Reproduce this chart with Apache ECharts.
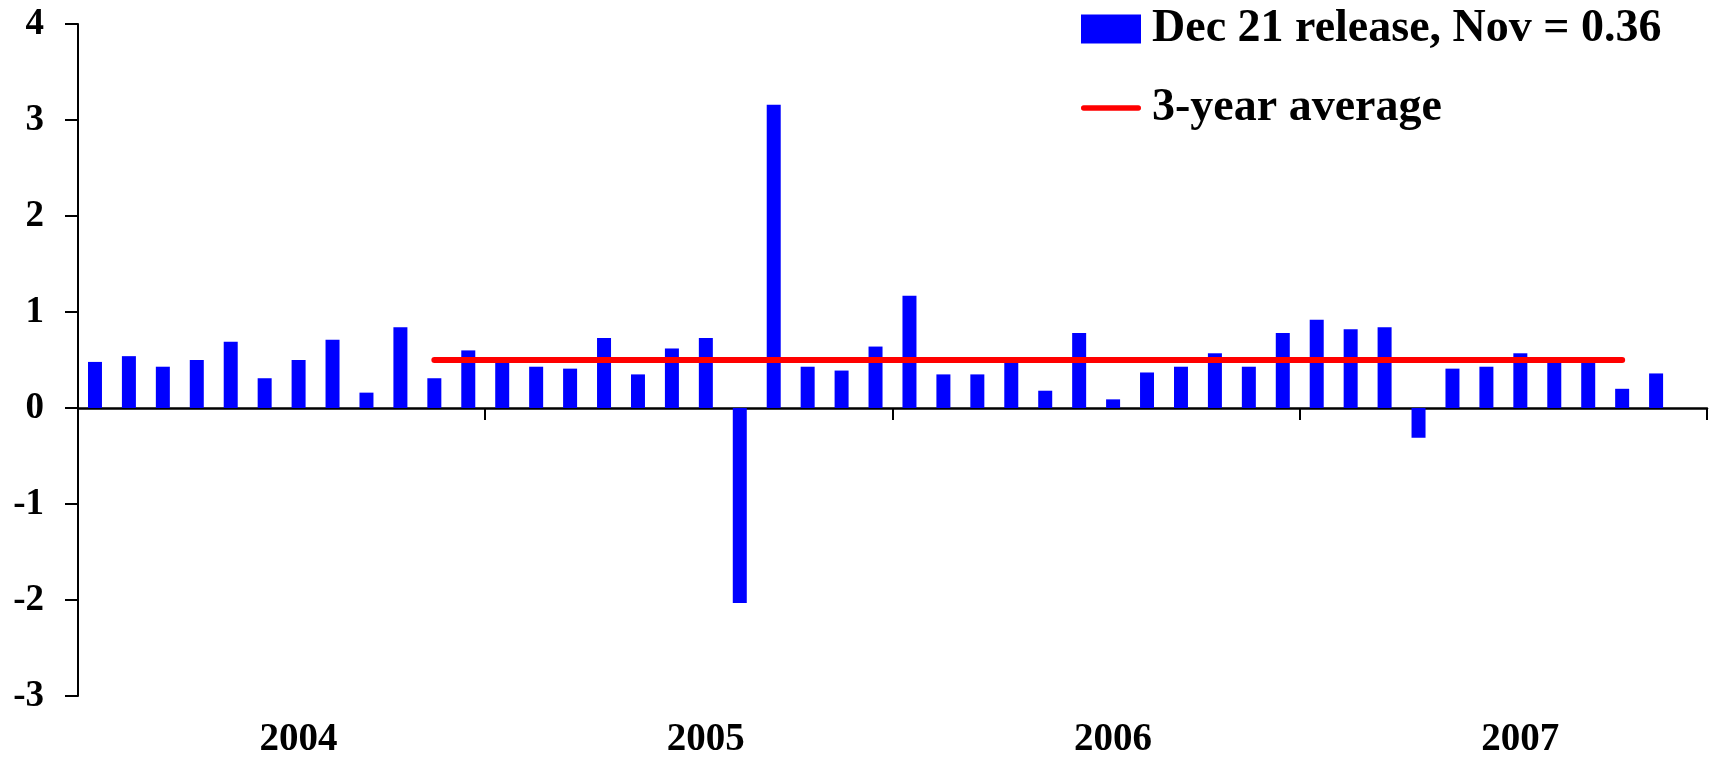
<!DOCTYPE html>
<html>
<head>
<meta charset="utf-8">
<script src="https://cdn.jsdelivr.net/npm/echarts@6/dist/echarts.min.js"></script>
<style>
  html, body { margin: 0; padding: 0; background: #ffffff; }
  #chart { width: 1714px; height: 759px; }
</style>
</head>
<body>
<div id="chart"></div>
<script>
// Monthly categories Jan 2004 .. Dec 2007
const months = [
  '2004-01','2004-02','2004-03','2004-04','2004-05','2004-06','2004-07','2004-08','2004-09','2004-10','2004-11','2004-12',
  '2005-01','2005-02','2005-03','2005-04','2005-05','2005-06','2005-07','2005-08','2005-09','2005-10','2005-11','2005-12',
  '2006-01','2006-02','2006-03','2006-04','2006-05','2006-06','2006-07','2006-08','2006-09','2006-10','2006-11','2006-12',
  '2007-01','2007-02','2007-03','2007-04','2007-05','2007-06','2007-07','2007-08','2007-09','2007-10','2007-11','2007-12'
];
// Dec 21 release values (Jan 2004 .. Nov 2007)
const releaseValues = [
  0.48, 0.54, 0.43, 0.50, 0.69, 0.31, 0.50, 0.71, 0.16, 0.84, 0.31, 0.60,
  0.50, 0.43, 0.41, 0.73, 0.35, 0.62, 0.73, -2.03, 3.16, 0.43, 0.39, 0.64,
  1.17, 0.35, 0.35, 0.50, 0.18, 0.78, 0.09, 0.37, 0.43, 0.57, 0.43, 0.78,
  0.92, 0.82, 0.84, -0.31, 0.41, 0.43, 0.57, 0.50, 0.50, 0.20, 0.36
];
// 3-year average line: endpoints
const avgPoints = [['2004-11', 0.5], ['2007-10', 0.5]];
const yTicks = { min: -3, max: 4, interval: 1 };
const seriesNames = ['Dec 21 release, Nov = 0.36', '3-year average'];

const FONT = '"Liberation Serif", "Times New Roman", serif';
const chart = echarts.init(document.getElementById('chart'), null, { renderer: 'canvas' });
chart.setOption({
  animation: false,
  backgroundColor: '#ffffff',
  grid: { left: 78, right: 7, top: 24, bottom: 61, containLabel: false },
  legend: {
    orient: 'vertical',
    left: 1081,
    top: 6,
    padding: 0,
    itemWidth: 60,
    itemHeight: 29,
    itemGap: 33,
    textStyle: { fontFamily: FONT, fontWeight: 'bold', fontSize: 46, lineHeight: 44, color: '#000', padding: [0, 0, 0, 6] },
    data: [
      { name: seriesNames[0], icon: 'rect' },
      { name: seriesNames[1], icon: 'path://M3,0 L63,0 A3,3 0 0 1 63,6 L3,6 A3,3 0 0 1 3,0 Z' }
    ]
  },
  xAxis: [
    {
      type: 'category',
      data: months,
      boundaryGap: true,
      axisLine: { show: true, onZero: true, lineStyle: { color: '#000', width: 2.5 } },
      axisTick: { show: true, interval: 11, length: 12, inside: false, lineStyle: { color: '#000', width: 2 } },
      axisLabel: { show: false },
      splitLine: { show: false }
    },
    {
      type: 'category',
      data: months,
      boundaryGap: true,
      position: 'bottom',
      axisLine: { show: false, onZero: false },
      axisTick: { show: false },
      axisLabel: {
        show: true,
        interval: function (idx) { return idx % 12 === 6; },
        formatter: function (v) { return v.slice(0, 4); },
        fontFamily: FONT, fontWeight: 'bold', fontSize: 39, color: '#000', margin: 24
      },
      splitLine: { show: false }
    }
  ],
  yAxis: {
    type: 'value',
    min: yTicks.min, max: yTicks.max, interval: yTicks.interval,
    axisLine: { show: true, lineStyle: { color: '#000', width: 2 } },
    axisTick: { show: true, length: 13, inside: false, lineStyle: { color: '#000', width: 2 } },
    axisLabel: { fontFamily: FONT, fontWeight: 'bold', fontSize: 37, color: '#000', margin: 34 },
    splitLine: { show: false }
  },
  series: [
    {
      name: seriesNames[0],
      type: 'bar',
      xAxisIndex: 0,
      data: releaseValues,
      barWidth: 14,
      itemStyle: { color: '#0000FF' },
      z: 2
    },
    {
      name: seriesNames[1],
      type: 'line',
      xAxisIndex: 0,
      data: avgPoints,
      symbol: 'none',
      lineStyle: { color: '#FF0000', width: 6, cap: 'round' },
      itemStyle: { color: '#FF0000' },
      z: 3
    }
  ]
});
</script>
</body>
</html>
